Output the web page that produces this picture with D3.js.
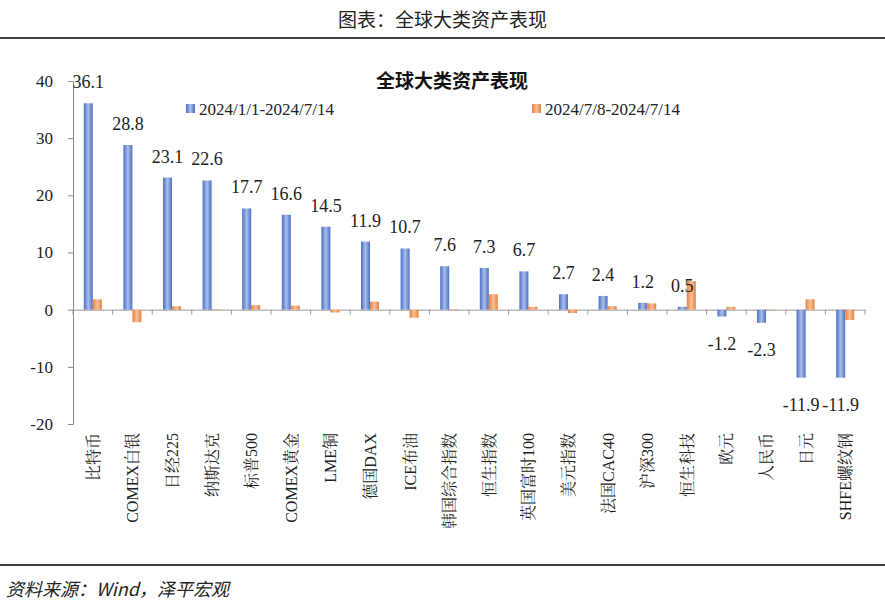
<!DOCTYPE html>
<html><head><meta charset="utf-8">
<script src="https://cdn.jsdelivr.net/npm/d3@7"></script>
<style>body{margin:0;background:#fff}</style>
</head><body><div id="chart"></div>
<script>
var categories = ["比特币","COMEX白银","日经225","纳斯达克","标普500","COMEX黄金","LME铜","德国DAX","ICE布油","韩国综合指数","恒生指数","英国富时100","美元指数","法国CAC40","沪深300","恒生科技","欧元","人民币","日元","SHFE螺纹钢"]
var ytdValues = [36.1,28.8,23.1,22.6,17.7,16.6,14.5,11.9,10.7,7.6,7.3,6.7,2.7,2.4,1.2,0.5,-1.2,-2.3,-11.9,-11.9]
var weekValues = [1.8,-2.2,0.6,0.1,0.8,0.7,-0.5,1.4,-1.4,0.1,2.7,0.5,-0.6,0.6,1.1,5.0,0.5,-0.1,1.8,-1.8]
var seriesNames = ["2024/1/1-2024/7/14","2024/7/8-2024/7/14"]
var yTicks = [-20,-10,0,10,20,30,40]

var W = 885, H = 611
var svg = d3.select("#chart").append("svg").attr("width",W).attr("height",H)
var serif = "'Liberation Serif','Noto Serif CJK SC','Noto Sans CJK SC',serif"

var defs = svg.append("defs")
function grad(id,edge,mid){
    var g = defs.append("linearGradient").attr("id",id).attr("x1","0").attr("x2","1").attr("y1","0").attr("y2","0")
    g.append("stop").attr("offset","0").attr("stop-color",edge)
    g.append("stop").attr("offset","0.5").attr("stop-color",mid)
    g.append("stop").attr("offset","1").attr("stop-color",edge)
}
grad("gb","#4a6fc4","#a9bdea")
grad("go","#e8803f","#f8bf98")

svg.append("text").attr("x",W/2).attr("y",27).attr("text-anchor","middle")
    .style("font-family","'Noto Sans CJK SC'").style("font-size","19px").attr("fill","#222").text("图表：全球大类资产表现")
svg.append("line").attr("x1",0).attr("x2",W).attr("y1",38).attr("y2",38).attr("stroke","#000").attr("stroke-width",1.5)
svg.append("line").attr("x1",0).attr("x2",W).attr("y1",565).attr("y2",565).attr("stroke","#000").attr("stroke-width",1.5)
svg.append("text").attr("x",6).attr("y",596)
    .style("font-family","'Noto Sans CJK SC'").style("font-size","18px").style("font-style","italic").attr("fill","#222").text("资料来源：Wind，泽平宏观")

var x = d3.scaleBand().domain(categories).range([73,865])
var y = d3.scaleLinear().domain([-20,40]).range([424,81])
var fmt = d=>String(d)

svg.append("g").attr("transform","translate(73,0)")
    .call(d3.axisLeft(y).tickValues(yTicks).tickSize(5).tickFormat(fmt))
    .call(g=>g.select(".domain").attr("stroke","#888"))
    .call(g=>g.selectAll(".tick line").attr("stroke","#888"))
    .call(g=>g.selectAll("text").attr("x",-20).style("font-family",serif).style("font-size","17px").attr("fill","#222"))

svg.append("g").attr("transform","translate(0,"+y(0)+")")
    .call(d3.axisBottom(x).tickSize(0).tickFormat(""))
    .call(g=>g.select(".domain").attr("stroke","#999"))
var tk = x.domain().map(d=>x(d)).concat([865])
svg.selectAll(".xt").data(tk).enter().append("line")
    .attr("x1",d=>d).attr("x2",d=>d).attr("y1",y(0)).attr("y2",y(0)+5).attr("stroke","#999")

var bw = 9
svg.selectAll(".b1").data(ytdValues).enter().append("rect")
    .attr("x",(d,i)=>x(categories[i])+x.bandwidth()/2-bw)
    .attr("y",d=>y(Math.max(0,d))).attr("width",bw)
    .attr("height",d=>Math.abs(y(d)-y(0))).attr("fill","url(#gb)")
svg.selectAll(".b2").data(weekValues).enter().append("rect")
    .attr("x",(d,i)=>x(categories[i])+x.bandwidth()/2)
    .attr("y",d=>y(Math.max(0,d))).attr("width",bw)
    .attr("height",d=>Math.abs(y(d)-y(0))).attr("fill","url(#go)")

svg.selectAll(".lbl").data(ytdValues).enter().append("text")
    .attr("x",(d,i)=>x(categories[i])+x.bandwidth()/2-bw/2)
    .attr("y",d=>d>=0?y(d)-15:y(d)+33)
    .attr("text-anchor","middle").style("font-family",serif).style("font-size","18px").attr("fill","#222")
    .text(d=>d.toFixed(1))

svg.selectAll(".cat").data(categories).enter().append("text")
    .attr("transform",d=>"translate("+(x(d)+x.bandwidth()/2+6)+",433) rotate(-90)")
    .attr("text-anchor","end").style("font-family",serif).style("font-size","16px").attr("fill","#222")
    .text(d=>d)

svg.append("text").attr("x",452).attr("y",88).attr("text-anchor","middle")
    .style("font-family","'Noto Sans CJK SC'").style("font-weight","bold").style("font-size","19px").attr("fill","#111").text("全球大类资产表现")
var lx = [186,532]
var lc = ["url(#gb)","url(#go)"]
seriesNames.forEach(function(n,i){
    svg.append("rect").attr("x",lx[i]).attr("y",104).attr("width",9).attr("height",9).attr("fill",lc[i])
    svg.append("text").attr("x",lx[i]+13).attr("y",115).style("font-family",serif).style("font-size","17px").attr("fill","#222").text(n)
})
</script></body></html>
